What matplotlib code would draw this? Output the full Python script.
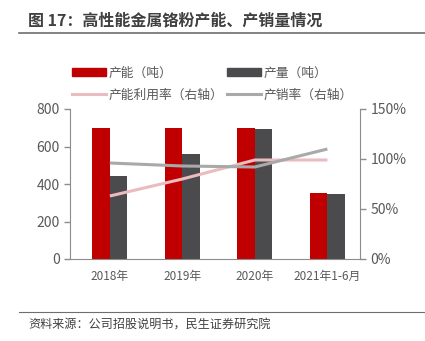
import numpy as np
import matplotlib
matplotlib.use("Agg")
import matplotlib.pyplot as plt
from matplotlib.lines import Line2D
from matplotlib.patches import Patch

plt.rcParams['font.family'] = ['Noto Sans CJK SC', 'DejaVu Sans']

# data
categories = ['2018年', '2019年', '2020年', '2021年1-6月']
capacity = [700, 700, 700, 350]          # 产能（吨）
output = [443, 558, 692, 347]            # 产量（吨）
utilization = [63, 80, 99, 99]           # 产能利用率 %
sales_rate = [96, 93, 92, 110]           # 产销率 %

red = '#C00000'
dark = '#4B4B4D'
pink = '#EBBCBF'
grey = '#A9A9A9'
txt = '#595959'
spine = '#8C8C8C'

fig = plt.figure(figsize=(4.25, 3.41), dpi=100)

ax = fig.add_axes([70/425, 1 - 259/341, 290/425, 150/341])
x = np.arange(len(categories))
w = 0.24
ax.bar(x - w/2, capacity, w, color=red, zorder=2)
ax.bar(x + w/2, output, w, color=dark, zorder=2)
ax.set_ylim(0, 800)
ax.set_yticks([0, 200, 400, 600, 800])
ax.set_xlim(-0.55, 3.45)
ax.set_xticks(x)
ax.set_xticklabels(categories)

ax2 = ax.twinx()
ax2.plot(x, utilization, color=pink, lw=2.2, solid_capstyle='butt')
ax2.plot(x, sales_rate, color=grey, lw=2.2, solid_capstyle='butt')
ax2.set_ylim(0, 150)
ax2.set_yticks([0, 50, 100, 150])
ax2.set_yticklabels(['0%', '50%', '100%', '150%'])

for a in (ax, ax2):
    for s in a.spines.values():
        s.set_visible(False)
    a.tick_params(axis='y', colors=spine, labelcolor=txt, labelsize=10, length=4, width=1)
ax.spines['left'].set_visible(True)
ax.spines['left'].set_color(spine)
ax.spines['bottom'].set_visible(True)
ax.spines['bottom'].set_color(spine)
ax2.spines['right'].set_visible(True)
ax2.spines['right'].set_color(spine)
ax.tick_params(axis='x', length=0, labelsize=8.5, labelcolor=txt, pad=8)

# legend (column-wise fill, so order red, pink | dark, grey)
handles = [Patch(color=red), Line2D([], [], color=pink, lw=2.2),
           Patch(color=dark), Line2D([], [], color=grey, lw=2.2)]
labels = ['产能（吨）', '产能利用率（右轴）', '产量（吨）', '产销率（右轴）']
fig.legend(handles, labels,
           ncol=2, loc='upper left', bbox_to_anchor=(66/425, 1 - 60/341),
           frameon=False, fontsize=9.2, labelcolor=txt,
           handlelength=2.6, handleheight=0.6, handletextpad=0.2,
           columnspacing=0.35, labelspacing=0.7, borderpad=0)

# title and source
fig.text(28/425, 1 - 20/341, '图 17：高性能金属铬粉产能、产销量情况', fontsize=11.5,
         fontweight='bold', color='#404040', va='center')
fig.add_artist(Line2D([19/425, 1], [1 - 33/341, 1 - 33/341], color='#6E6E6E', lw=1.2))
fig.add_artist(Line2D([19/425, 1], [1 - 312/341, 1 - 312/341], color='#6E6E6E', lw=0.8))
fig.text(28/425, 1 - 325/341, '资料来源：公司招股说明书，民生证券研究院', fontsize=8.7,
         color='#404040', va='center')

fig.savefig('out.png', dpi=100)
